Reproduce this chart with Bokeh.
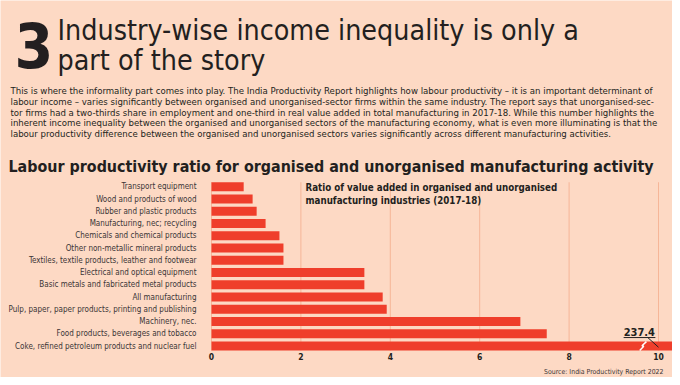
from bokeh.plotting import figure
from bokeh.models import Range1d, FixedTicker, Label, ColumnDataSource
from bokeh.embed import file_html
from bokeh.resources import INLINE

# ---------------- data ----------------
industries = [
    "Transport equipment",
    "Wood and products of wood",
    "Rubber and plastic products",
    "Manufacturing, nec; recycling",
    "Chemicals and chemical products",
    "Other non-metallic mineral products",
    "Textiles, textile products, leather and footwear",
    "Electrical and optical equipment",
    "Basic metals and fabricated metal products",
    "All manufacturing",
    "Pulp, paper, paper products, printing and publishing",
    "Machinery, nec.",
    "Food products, beverages and tobacco",
    "Coke, refined petroleum products and nuclear fuel",
]
ratios = [0.72, 0.92, 1.01, 1.21, 1.52, 1.61, 1.61, 3.42, 3.42, 3.83, 3.92, 6.91, 7.50, 237.4]
x_ticks = [0, 2, 4, 6, 8, 10]
x_tick_labels = ["0", "2", "4", "6", "8", "10"]

title_number = "3"
title_lines = ["Industry-wise income inequality is only a", "part of the story"]
paragraph = [
    "This is where the informality part comes into play. The India Productivity Report highlights how labour productivity \u2013 it is an important determinant of",
    "labour income \u2013 varies significantly between organised and unorganised-sector firms within the same industry. The report says that unorganised-sec-",
    "tor firms had a two-thirds share in employment and one-third in real value added in total manufacturing in 2017-18. While this number highlights the",
    "inherent income inequality between the organised and unorganised sectors of the manufacturing economy, what is even more illuminating is that the",
    "labour productivity difference between the organised and unorganised sectors varies significantly across different manufacturing activities.",
]
chart_title = "Labour productivity ratio for organised and unorganised manufacturing activity"
inner_title = ["Ratio of value added in organised and unorganised", "manufacturing industries (2017-18)"]
source_text = "Source: India Productivity Report 2022"

# ---------------- style / geometry ----------------
BG = "#FDD9C4"
BAR = "#EF3E2B"
GRID = "#F6B698"
DARK = "#231F20"
LABEL_C = "#3A3536"
FONT = "DejaVu Sans Condensed, sans-serif"
BASE_FIX = 0.36            # baseline correction (fraction of font size)

W, H = 672, 377
PX_PER_UNIT = 44.7         # horizontal scale of the bar axis
ZERO_PX = 211              # x of value 0
ROW_PX = 12.25             # row pitch
LAST_ROW_PX = H - 345.5    # distance of the bottom row's centre from the figure bottom
BAR_H = 0.735
CAP = (W - ZERO_PX) / PX_PER_UNIT   # where the off-scale bar is cut

n = len(industries)
pos = [n - 1 - i for i in range(n)]
shown = [min(v, CAP) for v in ratios]
src = ColumnDataSource(dict(y=pos, right=shown, name=industries, value=ratios))

x_range = Range1d(-ZERO_PX / PX_PER_UNIT, (W - ZERO_PX) / PX_PER_UNIT)
y_range = Range1d(-LAST_ROW_PX / ROW_PX, (H - LAST_ROW_PX) / ROW_PX)

p = figure(width=W, height=H, output_backend="svg", toolbar_location=None,
           x_range=x_range, y_range=y_range,
           min_border_left=0, min_border_right=0, min_border_top=0, min_border_bottom=0)
p.background_fill_color = BG
p.border_fill_color = BG
p.outline_line_color = None
p.grid.grid_line_color = None

lo, hi = -BAR_H / 2, n - 1 + BAR_H / 2

# vertical grid lines limited to the bar area
p.segment(x0=x_ticks, x1=x_ticks, y0=[lo] * len(x_ticks), y1=[hi] * len(x_ticks),
          line_color=GRID, line_width=1)

p.hbar(y="y", left=0, right="right", height=BAR_H, source=src, fill_color=BAR, line_color=None)

# axes drawn at fixed data locations inside the frame
xa = p.xaxis[0]
xa.fixed_location = lo
xa.ticker = FixedTicker(ticks=x_ticks)
xa.major_label_overrides = {t: l for t, l in zip(x_ticks, x_tick_labels)}
xa.axis_line_color = None
xa.major_tick_line_color = None
xa.minor_tick_line_color = None
xa.major_tick_out = 0
xa.major_label_standoff = 2
xa.major_label_text_font = FONT
xa.major_label_text_font_style = "bold"
xa.major_label_text_font_size = "8.5px"
xa.major_label_text_color = DARK

ya = p.yaxis[0]
ya.fixed_location = 0
ya.ticker = FixedTicker(ticks=pos)
ya.major_label_overrides = {y: name for y, name in zip(pos, industries)}
ya.axis_line_color = None
ya.major_tick_line_color = None
ya.minor_tick_line_color = None
ya.major_tick_out = 0
ya.major_label_standoff = 15
ya.major_label_text_font = FONT
ya.major_label_text_font_size = "8px"
ya.major_label_text_color = LABEL_C

# broken-bar marker and callout for the off-scale value
big = n - 1
coke_y = pos[big]
p.line(x=[9.58, 9.67, 9.63, 9.73], y=[coke_y - 0.36, coke_y - 0.02, coke_y + 0.02, coke_y + 0.36],
       line_color="white", line_width=1.5)
p.segment(x0=[9.22, 9.76], y0=[coke_y + 0.69, coke_y + 0.69], x1=[9.93, 10.0], y1=[coke_y + 0.69, coke_y - 0.1],
          line_color=DARK, line_width=1)
p.add_layout(Label(x=9.57, y=coke_y + 0.86 + BASE_FIX * 11 / ROW_PX, text=f"{ratios[big]:.1f}", text_font=FONT,
                   text_font_style="bold", text_font_size="11px", text_color=DARK,
                   text_align="center", text_baseline="alphabetic"))


def put(text, wx, wy, size, bold=False, color=DARK, align="left"):
    """Text with its baseline at picture position (wx, wy)."""
    p.add_layout(Label(x=wx, y=H - wy + BASE_FIX * size, x_units="screen", y_units="screen", text=text,
                       text_font=FONT, text_font_size=f"{size}px",
                       text_font_style="bold" if bold else "normal", text_color=color,
                       text_align=align, text_baseline="alphabetic"))


put(title_number, 14, 67, 62, bold=True)
put(title_lines[0], 57, 40, 28.4)
put(title_lines[1], 57, 70, 28.4)
for i, line in enumerate(paragraph):
    put(line, 10, 93.5 + i * 10.8, 9.55)
put(chart_title, 8, 172, 15.9, bold=True)
put(inner_title[0], 305, 190, 9.7, bold=True)
put(inner_title[1], 305, 203.5, 9.7, bold=True)
put(source_text, 663, 374, 6.9, color=LABEL_C, align="right")

open("out.html", "w").write(file_html(p, INLINE))
